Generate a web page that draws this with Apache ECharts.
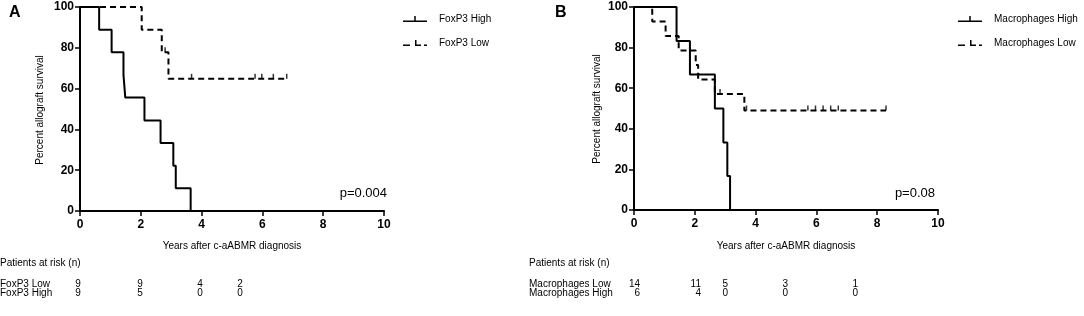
<!DOCTYPE html>
<html>
<head>
<meta charset="utf-8">
<script src="https://cdn.jsdelivr.net/npm/echarts@6/dist/echarts.min.js"></script>
<style>html,body{margin:0;padding:0;background:#fff}#c{width:1084px;height:316px}</style>
</head>
<body>
<div id="c"></div>
<script>
// ---- data ----
const xTickLabels = [0, 2, 4, 6, 8, 10];
const yTickLabels = [0, 20, 40, 60, 80, 100];

// Panel A
const foxHighTimes = [0.63, 1.04, 1.43, 1.49, 2.12, 2.65, 3.07, 3.15, 3.64];
const foxHighSurv  = [88.9, 77.8, 66.7, 55.6, 44.4, 33.3, 22.2, 11.1, 0];
const foxHighCensor = [];
const foxLowTimes = [2.03, 2.69, 2.91];
const foxLowSurv  = [88.9, 77.8, 64.8];
const foxLowCensor = [2.80, 3.67, 5.76, 5.98, 6.36, 6.80];

// Panel B
const macHighTimes = [1.40, 1.84, 2.66, 2.94, 3.07, 3.16];
const macHighSurv  = [83.3, 66.7, 50.0, 33.3, 16.7, 0];
const macHighCensor = [];
const macLowTimes = [0.60, 1.04, 1.47, 2.03, 2.11, 2.66, 3.63];
const macLowSurv  = [92.9, 85.7, 78.6, 71.4, 64.3, 57.1, 49.0];
const macLowCensor = [2.83, 3.70, 5.72, 5.97, 6.22, 6.47, 6.72, 8.29];

// Patients at risk
const riskTitle = 'Patients at risk (n)';
const foxRiskRows = ['FoxP3 Low', 'FoxP3 High'];
const foxRiskLow  = ['9', '9', '4', '2'];
const foxRiskHigh = ['9', '5', '0', '0'];
const macRiskRows = ['Macrophages Low', 'Macrophages High'];
const macRiskLow  = ['14', '11', '5', '3', '1'];
const macRiskHigh = ['6', '4', '0', '0', '0'];

const pA = 'p=0.004';
const pB = 'p=0.08';
const xTitle = 'Years after c-aABMR diagnosis';
const yTitle = 'Percent allograft survival';

// ---- helpers ----
function stepData(times, surv, censor) {
  const d = [[0, 100]];
  let prev = 100;
  times.forEach((t, i) => { d.push([t, prev]); d.push([t, surv[i]]); prev = surv[i]; });
  const lastC = censor.length ? Math.max(...censor) : 0;
  const lastT = times[times.length - 1];
  if (lastC > lastT) d.push([lastC, prev]);
  return d;
}
function levelAt(times, surv, t) {
  let s = 100;
  times.forEach((tt, i) => { if (tt <= t) s = surv[i]; });
  return s;
}
function censorData(times, surv, censor) {
  return censor.map(t => [t, levelAt(times, surv, t)]);
}

const FONT = 'Liberation Sans, Arial, sans-serif';
const solidIcon = 'path://M0,4.5L24,4.5L24,6L0,6Z M11.25,0L12.75,0L12.75,4.5L11.25,4.5Z';
const dashIcon = 'path://M0,4.5L7,4.5L7,6L0,6Z M12,0L13.5,0L13.5,4.5L18,4.5L18,6L12,6Z M21,4.5L24,4.5L24,6L21,6Z';

function xAxisCfg(gi) {
  return {
    type: 'value', gridIndex: gi, min: 0, max: 10, interval: 2,
    axisLine: { show: true, onZero: false, lineStyle: { color: '#000', width: 2 } },
    axisTick: { show: true, length: 5, lineStyle: { color: '#000', width: 1.5 } },
    axisLabel: { color: '#000', fontFamily: FONT, fontWeight: 'bold', fontSize: 12, margin: 8 },
    splitLine: { show: false }
  };
}
function yAxisCfg(gi) {
  return {
    type: 'value', gridIndex: gi, min: 0, max: 100, interval: 20,
    axisLine: { show: true, onZero: false, lineStyle: { color: '#000', width: 2 } },
    axisTick: { show: true, length: 5, lineStyle: { color: '#000', width: 1.5 } },
    axisLabel: { color: '#000', fontFamily: FONT, fontWeight: 'bold', fontSize: 12, margin: 6 },
    splitLine: { show: false }
  };
}
function lineSeries(name, gi, data, dashed) {
  return {
    name, type: 'line', xAxisIndex: gi, yAxisIndex: gi, data,
    showSymbol: false, symbol: 'none', animation: false, silent: true,
    lineStyle: { color: '#000', width: 2, type: dashed ? [6, 4] : 'solid' },
    itemStyle: { color: '#000' }
  };
}
function censorSeries(name, gi, data) {
  return {
    name, type: 'scatter', xAxisIndex: gi, yAxisIndex: gi, data,
    symbol: 'rect', symbolSize: [1.5, 5], symbolOffset: [0, -2.5],
    itemStyle: { color: '#000' }, animation: false, silent: true
  };
}
function txt(x, y, text, opts) {
  return Object.assign({
    type: 'text', x, y, silent: true,
    style: Object.assign({ text, fill: '#000', font: '10px ' + FONT, textAlign: 'left', textVerticalAlign: 'middle' }, opts || {})
  });
}

const graphics = [
  txt(9, 13, 'A', { font: 'bold 16px ' + FONT }),
  txt(555, 13, 'B', { font: 'bold 16px ' + FONT }),
  { type: 'text', x: 40, y: 110, rotation: Math.PI / 2, silent: true,
    style: { text: yTitle, fill: '#000', font: '10px ' + FONT, textAlign: 'center', textVerticalAlign: 'middle' } },
  { type: 'text', x: 597, y: 109, rotation: Math.PI / 2, silent: true,
    style: { text: yTitle, fill: '#000', font: '10px ' + FONT, textAlign: 'center', textVerticalAlign: 'middle' } },
  txt(232, 246, xTitle, { textAlign: 'center' }),
  txt(786, 246, xTitle, { textAlign: 'center' }),
  txt(387, 193, pA, { font: '13px ' + FONT, textAlign: 'right' }),
  txt(935, 193, pB, { font: '13px ' + FONT, textAlign: 'right' }),
  txt(0, 263, riskTitle),
  txt(529, 263, riskTitle),
  txt(0, 284, foxRiskRows[0]),
  txt(0, 293, foxRiskRows[1]),
  txt(529, 284, macRiskRows[0]),
  txt(529, 293, macRiskRows[1])
];
const foxCols = [78, 140, 200, 240];
foxRiskLow.forEach((v, i) => graphics.push(txt(foxCols[i], 284, v, { textAlign: 'center' })));
foxRiskHigh.forEach((v, i) => graphics.push(txt(foxCols[i], 293, v, { textAlign: 'center' })));
const macCols = [640, 701, 728, 788, 858];
macRiskLow.forEach((v, i) => graphics.push(txt(macCols[i], 284, v, { textAlign: 'right' })));
macRiskHigh.forEach((v, i) => graphics.push(txt(macCols[i], 293, v, { textAlign: 'right' })));

function legendCfg(left, names) {
  return {
    left, top: 14, padding: 0, orient: 'vertical', itemWidth: 24, itemHeight: 6, itemGap: 14,
    selectedMode: false, data: [
      { name: names[0], icon: solidIcon },
      { name: names[1], icon: dashIcon }
    ],
    itemStyle: { color: '#000', borderWidth: 0 },
    lineStyle: { width: 0 },
    textStyle: { color: '#000', fontFamily: FONT, fontSize: 10, padding: [0, 0, 0, 7] }
  };
}

const chart = echarts.init(document.getElementById('c'), null, { renderer: 'canvas' });
chart.setOption({
  animation: false,
  backgroundColor: '#fff',
  grid: [
    { left: 80, top: 7, width: 304, height: 204 },
    { left: 634, top: 7, width: 304, height: 203 }
  ],
  xAxis: [xAxisCfg(0), xAxisCfg(1)],
  yAxis: [yAxisCfg(0), yAxisCfg(1)],
  legend: [
    legendCfg(403, ['FoxP3 High', 'FoxP3 Low']),
    legendCfg(958, ['Macrophages High', 'Macrophages Low'])
  ],
  series: [
    lineSeries('FoxP3 High', 0, stepData(foxHighTimes, foxHighSurv, foxHighCensor), false),
    lineSeries('FoxP3 Low', 0, stepData(foxLowTimes, foxLowSurv, foxLowCensor), true),
    censorSeries('FoxP3 Low censored', 0, censorData(foxLowTimes, foxLowSurv, foxLowCensor)),
    lineSeries('Macrophages High', 1, stepData(macHighTimes, macHighSurv, macHighCensor), false),
    lineSeries('Macrophages Low', 1, stepData(macLowTimes, macLowSurv, macLowCensor), true),
    censorSeries('Macrophages Low censored', 1, censorData(macLowTimes, macLowSurv, macLowCensor))
  ],
  graphic: graphics
});
</script>
</body>
</html>
